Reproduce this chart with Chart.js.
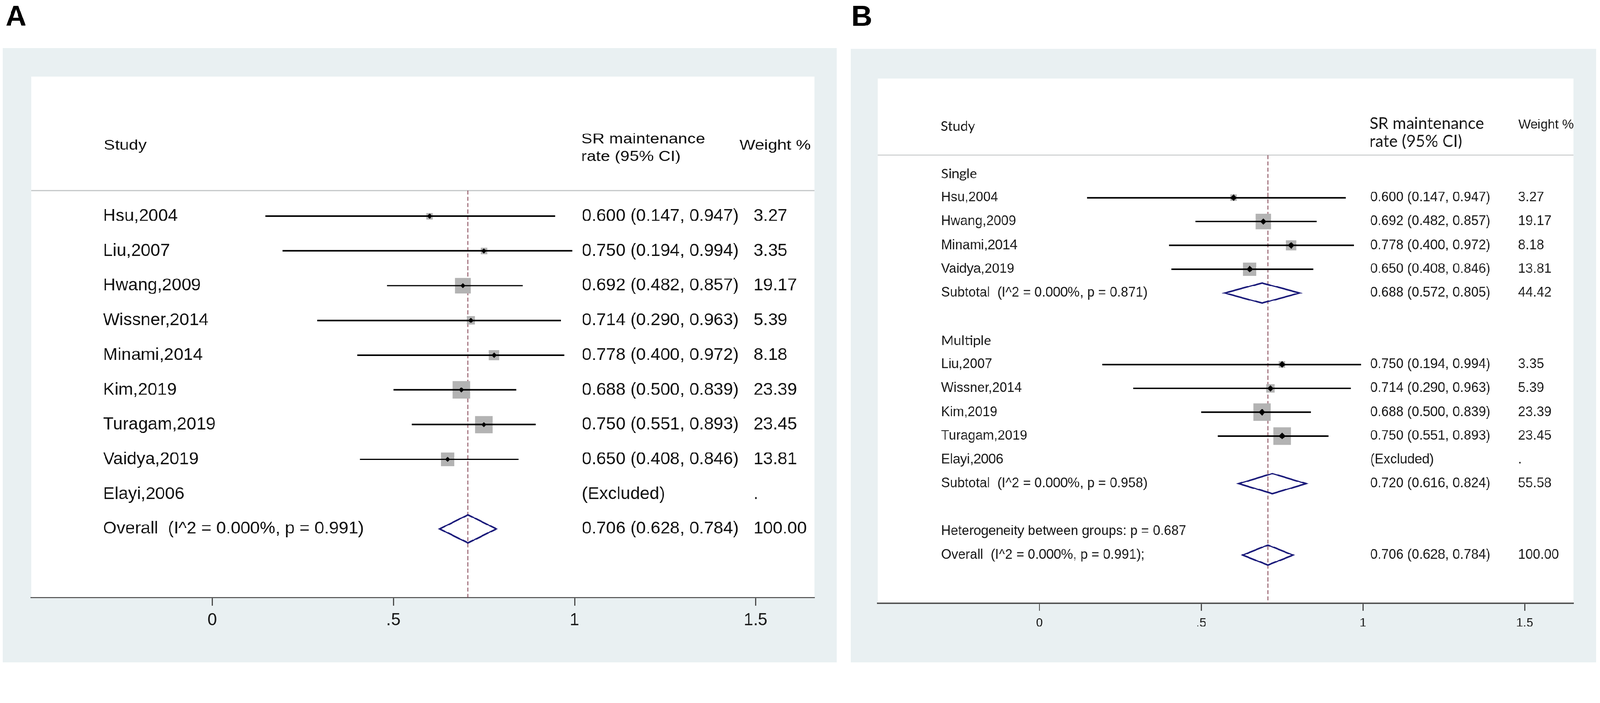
<!DOCTYPE html>
<html><head><meta charset="utf-8">
<script src="https://cdn.jsdelivr.net/npm/chart.js@4.4.1/dist/chart.umd.min.js"></script>
<style>
html,body{margin:0;padding:0;background:#fff;overflow:hidden}
#wrap{position:absolute;left:0;top:0;width:4317px;height:1799px;transform-origin:0 0;background:#fff}
canvas{position:absolute;top:0}
#cA{left:0;width:2258px;height:1799px}
#cB{left:2258px;width:2059px;height:1799px}
</style></head><body>
<div id="wrap">
<canvas id="cA" width="2258" height="1799"></canvas>
<canvas id="cB" width="2059" height="1799"></canvas>
</div>
<script>
// fit the 4317x1799 design into the actual viewport
(function(){
  const k = Math.min(window.innerWidth / 4317, window.innerHeight / 1799);
  document.getElementById('wrap').style.transform = 'scale(' + k + ')';
})();

// ---------- Panel A data ----------
const studiesA = ["Hsu,2004","Liu,2007","Hwang,2009","Wissner,2014","Minami,2014","Kim,2019","Turagam,2019","Vaidya,2019"];
const estA    = [0.600, 0.750, 0.692, 0.714, 0.778, 0.688, 0.750, 0.650];
const lowA    = [0.147, 0.194, 0.482, 0.290, 0.400, 0.500, 0.551, 0.408];
const highA   = [0.947, 0.994, 0.857, 0.963, 0.972, 0.839, 0.893, 0.846];
const weightA = [3.27, 3.35, 19.17, 5.39, 8.18, 23.39, 23.45, 13.81];
const excludedA = ["Elayi,2006"];
const overallA = [0.706, 0.628, 0.784];      // estimate, lower, upper
const overallStatsA = [0.000, 0.991];        // I^2 (%), p
const overallWeightA = 100.00;

// ---------- Panel B data ----------
const subgroupNames = ["Single", "Multiple"];
const singleStudies = ["Hsu,2004","Hwang,2009","Minami,2014","Vaidya,2019"];
const singleEst     = [0.600, 0.692, 0.778, 0.650];
const singleLow     = [0.147, 0.482, 0.400, 0.408];
const singleHigh    = [0.947, 0.857, 0.972, 0.846];
const singleWeight  = [3.27, 19.17, 8.18, 13.81];
const singleExcluded = [];
const multipleStudies = ["Liu,2007","Wissner,2014","Kim,2019","Turagam,2019"];
const multipleEst     = [0.750, 0.714, 0.688, 0.750];
const multipleLow     = [0.194, 0.290, 0.500, 0.551];
const multipleHigh    = [0.994, 0.963, 0.839, 0.893];
const multipleWeight  = [3.35, 5.39, 23.39, 23.45];
const multipleExcluded = ["Elayi,2006"];
const subtotalEst    = [0.688, 0.720];
const subtotalLow    = [0.572, 0.616];
const subtotalHigh   = [0.805, 0.824];
const subtotalWeight = [44.42, 55.58];
const subtotalI2     = [0.000, 0.000];
const subtotalP      = [0.871, 0.958];
const heterogeneityP = 0.687;
const overallB = [0.706, 0.628, 0.784];
const overallStatsB = [0.000, 0.991];
const overallWeightB = 100.00;

// ---------- Axis ticks ----------
const tickValues = [0, 0.5, 1, 1.5];
const tickLabels = ["0", ".5", "1", "1.5"];

// ---------- helpers ----------
const f3 = v => v.toFixed(3);
const ciText = (e,l,h) => `${f3(e)} (${f3(l)}, ${f3(h)})`;
const ARIAL = '"Liberation Sans", Arial, sans-serif';
const SEGOE = 'Lato, "Open Sans", sans-serif';

function rowsA() {
  const rows = [];
  studiesA.forEach((s,i) => rows.push({kind:'study', row:i, label:s, est:estA[i], lo:lowA[i], hi:highA[i], w:weightA[i]}));
  let r = studiesA.length;
  excludedA.forEach(s => rows.push({kind:'excluded', row:r++, label:s}));
  rows.push({kind:'pooled', row:r, label:`Overall  (I^2 = ${f3(overallStatsA[0])}%, p = ${f3(overallStatsA[1])})`,
             est:overallA[0], lo:overallA[1], hi:overallA[2], w:overallWeightA});
  return rows;
}

function rowsB() {
  const rows = [];
  const groups = [
    [singleStudies, singleEst, singleLow, singleHigh, singleWeight, singleExcluded],
    [multipleStudies, multipleEst, multipleLow, multipleHigh, multipleWeight, multipleExcluded]
  ];
  let r = 0;
  groups.forEach((g, gi) => {
    rows.push({kind:'group', row:r++, label:subgroupNames[gi]});
    g[0].forEach((s,i) => rows.push({kind:'study', row:r++, label:s, est:g[1][i], lo:g[2][i], hi:g[3][i], w:g[4][i]}));
    g[5].forEach(s => rows.push({kind:'excluded', row:r++, label:s}));
    rows.push({kind:'pooled', row:r++, label:`Subtotal  (I^2 = ${f3(subtotalI2[gi])}%, p = ${f3(subtotalP[gi])})`,
               est:subtotalEst[gi], lo:subtotalLow[gi], hi:subtotalHigh[gi], w:subtotalWeight[gi]});
    r++; // blank row
  });
  rows.push({kind:'note', row:r++, label:`Heterogeneity between groups: p = ${f3(heterogeneityP)}`});
  rows.push({kind:'pooled', row:r++, label:`Overall  (I^2 = ${f3(overallStatsB[0])}%, p = ${f3(overallStatsB[1])});`,
             est:overallB[0], lo:overallB[1], hi:overallB[2], w:overallWeightB});
  return rows;
}

function drawText(ctx, s, x, y, font, color, sx) {
  ctx.save();
  ctx.font = font; ctx.fillStyle = color;
  ctx.textBaseline = 'middle'; ctx.textAlign = 'left';
  ctx.translate(x, y); ctx.scale(sx || 1, 1);
  ctx.fillText(s, 0, 0);
  ctx.restore();
}

function makeForest(id, rows, refLine, cfg) {
  const maxW = Math.max(...rows.filter(r => r.kind === 'study').map(r => r.w));
  const studies = rows.filter(r => r.kind === 'study');
  const pooled = rows.filter(r => r.kind === 'pooled');
  const squares = studies.map(r => ({x:r.est, y:r.row}));
  const radii = studies.map(r => cfg.sq / Math.SQRT2 * Math.sqrt(r.w / maxW));
  const ci = [];
  studies.forEach(r => { ci.push({x:r.lo, y:r.row}, {x:r.hi, y:r.row}, {x:null, y:null}); });
  const dots = studies.map(r => ({x:r.est, y:r.row}));
  const dia = [];
  pooled.forEach(r => {
    dia.push({x:r.lo, y:r.row}, {x:r.est, y:r.row - cfg.diaH}, {x:r.hi, y:r.row},
             {x:r.est, y:r.row + cfg.diaH}, {x:r.lo, y:r.row}, {x:r.est, y:r.row - cfg.diaH}, {x:null, y:null});
  });
  const dashed = [{x:refLine, y:cfg.sepRow}, {x:refLine, y:cfg.yMax}];

  const bgPlugin = {
    id: 'bg',
    beforeDraw(chart) {
      const c = chart.ctx, a = chart.chartArea;
      c.save();
      c.fillStyle = '#ffffff'; c.fillRect(0, 0, chart.width, chart.height);
      c.fillStyle = '#e9f0f2'; c.fillRect(cfg.grey[0], cfg.grey[1], cfg.grey[2], cfg.grey[3]);
      c.fillStyle = '#ffffff'; c.fillRect(a.left, a.top, a.right - a.left, a.bottom - a.top);
      const ys = chart.scales.y.getPixelForValue(cfg.sepRow);
      c.strokeStyle = '#c4c7c8'; c.lineWidth = 3;
      c.beginPath(); c.moveTo(a.left, ys); c.lineTo(a.right, ys); c.stroke();
      c.fillStyle = '#000';
      c.font = 'bold 78px ' + ARIAL; c.textBaseline = 'alphabetic';
      c.fillText(cfg.letter, cfg.letterX, 70);
      c.restore();
    }
  };
  const textPlugin = {
    id: 'txt',
    afterDraw(chart) {
      const c = chart.ctx, y = chart.scales.y;
      cfg.headers.forEach(h => drawText(c, h.text, h.x, y.getPixelForValue(h.row), h.font, cfg.color, h.sx));
      rows.forEach(r => {
        const py = y.getPixelForValue(r.row);
        const lf = (r.kind === 'group') ? cfg.groupFont : cfg.bodyFont;
        drawText(c, r.label, cfg.cols[0], py, lf, cfg.color, 1);
        if (r.kind === 'study' || r.kind === 'pooled') {
          drawText(c, ciText(r.est, r.lo, r.hi), cfg.cols[1], py, cfg.bodyFont, cfg.color, 1);
          drawText(c, r.w.toFixed(2), cfg.cols[2], py, cfg.bodyFont, cfg.color, 1);
        } else if (r.kind === 'excluded') {
          drawText(c, '(Excluded)', cfg.cols[1], py, cfg.bodyFont, cfg.color, 1);
          drawText(c, '.', cfg.cols[2], py, cfg.bodyFont, cfg.color, 1);
        }
      });
    }
  };

  return new Chart(document.getElementById(id), {
    type: 'scatter',
    data: { datasets: [
      {type:'line', data:dashed, borderColor:'#7e3a4a', borderWidth:2, borderDash:[11,6], pointRadius:0, order:5},
      {type:'scatter', data:squares, pointStyle:'rect', pointRadius:radii, backgroundColor:'#b3b3b3', borderWidth:0, order:4},
      {type:'line', data:ci, borderColor:'#000', borderWidth:cfg.lw, pointRadius:0, spanGaps:false, borderCapStyle:'butt', order:3},
      {type:'scatter', data:dots, pointStyle:'rectRot', pointRadius:cfg.dotR, backgroundColor:'#000', borderWidth:0, order:2},
      {type:'line', data:dia, borderColor:'#1a1a7a', borderWidth:cfg.lw, pointRadius:0, spanGaps:false, borderJoinStyle:'miter', fill:false, order:1}
    ]},
    options: {
      responsive:false, animation:false, devicePixelRatio:1, events:[],
      layout: { padding: cfg.pad },
      plugins: { legend:{display:false}, tooltip:{enabled:false} },
      scales: {
        x: {
          type:'linear', min:cfg.xMin, max:cfg.xMax,
          afterBuildTicks: s => { s.ticks = tickValues.map(v => ({value:v})); },
          afterFit: s => { s.height = cfg.axisH; },
          ticks: { callback: (v, i) => tickLabels[i], autoSkip:false, maxRotation:0, padding:cfg.tickPad,
                   font:{family:ARIAL, size:cfg.tickFont}, color:'#1a1a1a' },
          grid: { drawOnChartArea:false, drawTicks:true, tickLength:cfg.tickLen, tickColor:'#4a4a4a', tickWidth:3, color:'#4a4a4a' },
          border: { display:true, color:'#4a4a4a', width:3.5 }
        },
        y: { type:'linear', reverse:true, min:cfg.yMin, max:cfg.yMax, display:false }
      }
    },
    plugins: [bgPlugin, textPlugin]
  });
}

// Panel A
makeForest('cA', rowsA(), overallA[0], {
  xMin:-0.5, xMax:1.663, yMin:-4.013, yMax:10.98,
  pad:{left:84, right:60, top:207, bottom:67}, axisH:120,
  tickLen:22, tickPad:12, tickFont:46,
  grey:[7, 130, 2251, 1656], letter:'A', letterX:15,
  sepRow:-0.74, cols:[278, 1570, 2033], color:'#111111',
  bodyFont:'47px ' + ARIAL, groupFont:'47px ' + ARIAL,
  headers:[
    {text:'Study', x:280, row:-2.02, font:'38px ' + ARIAL, sx:1.19},
    {text:'SR maintenance', x:1568, row:-2.2, font:'38px ' + ARIAL, sx:1.19},
    {text:'rate (95% CI)', x:1568, row:-1.7, font:'38px ' + ARIAL, sx:1.19},
    {text:'Weight %', x:1995, row:-2.02, font:'38px ' + ARIAL, sx:1.19}
  ],
  sq:47, dotR:7, diaH:0.405, lw:4
});

// Panel B
makeForest('cB', rowsB(), overallB[0], {
  xMin:-0.5, xMax:1.65, yMin:-4.0, yMax:18.02,
  pad:{left:110, right:72, top:212, bottom:72}, axisH:100,
  tickLen:20, tickPad:14, tickFont:33,
  grey:[37, 132, 2011, 1654], letter:'B', letterX:39,
  sepRow:-0.79, cols:[281, 1439, 1838], color:'#1a1a1a',
  bodyFont:'36px ' + ARIAL, groupFont:'37px ' + SEGOE,
  headers:[
    {text:'Study', x:280, row:-1.99, font:'37px ' + SEGOE, sx:1},
    {text:'SR maintenance', x:1437, row:-2.1, font:'44px ' + SEGOE, sx:1},
    {text:'rate (95% CI)', x:1437, row:-1.35, font:'44px ' + SEGOE, sx:1},
    {text:'Weight %', x:1839, row:-2.05, font:'35px ' + ARIAL, sx:1}
  ],
  sq:47, dotR:9, diaH:0.42, lw:4
});
</script>
</body></html>
